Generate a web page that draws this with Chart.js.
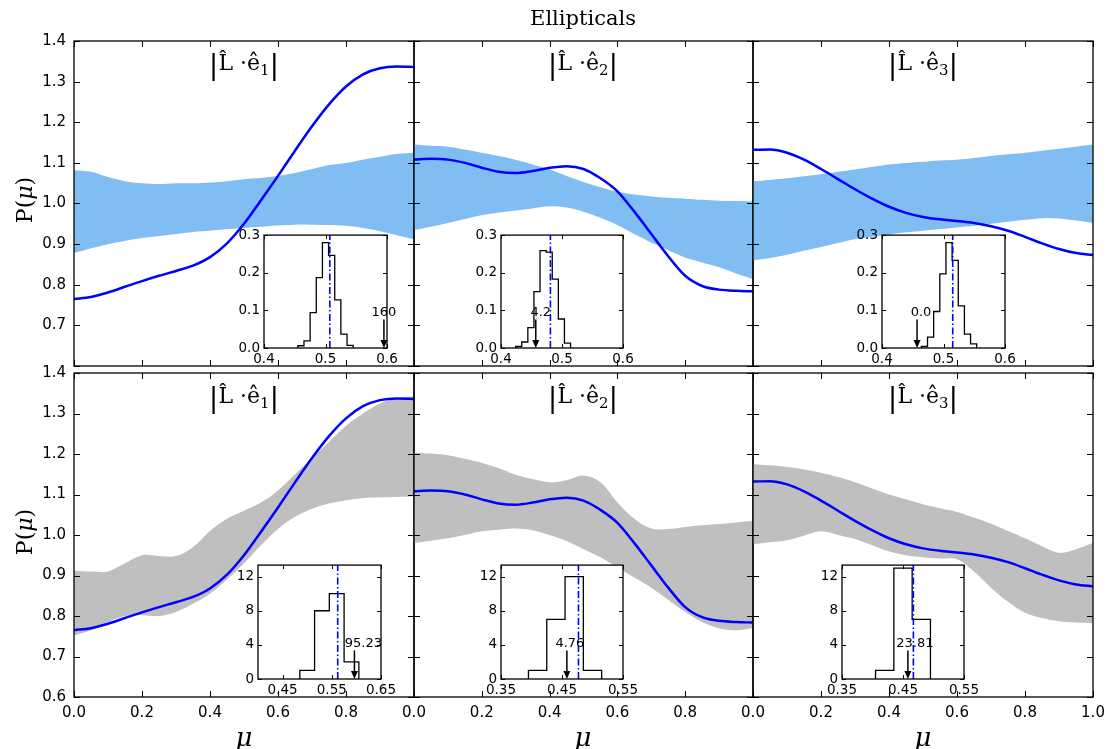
<!DOCTYPE html>
<html>
<head>
<meta charset="utf-8">
<script src="https://cdn.jsdelivr.net/npm/chart.js@4.4.1/dist/chart.umd.min.js"></script>
<style>
  body { margin: 0; background: #fff; width: 1109px; height: 749px; position: relative; overflow: hidden; }
  canvas { position: absolute; }
  .lbl { position: absolute; z-index: 5; font-family: "DejaVu Serif", serif; white-space: nowrap;
         line-height: 1; color: #000; }
  .lbl sub { font-size: 68%; vertical-align: -0.3em; }
  .lbl .bar { font-size: 130%; font-weight: 200; vertical-align: -0.12em; }
</style>
</head>
<body>
<script>
// mu grid shared by every main panel
const mu = [0, 0.05, 0.1, 0.15, 0.2, 0.25, 0.3, 0.35, 0.4, 0.45, 0.5,
            0.55, 0.6, 0.65, 0.7, 0.75, 0.8, 0.85, 0.9, 0.95, 1.0];

// measured P(mu) for |L.e1|, |L.e2|, |L.e3| (same curve in both rows)
const pE1 = [0.765, 0.770, 0.781, 0.795, 0.809, 0.822, 0.834, 0.847, 0.868, 0.902, 0.950,
             1.008, 1.068, 1.130, 1.190, 1.244, 1.288, 1.318, 1.333, 1.337, 1.336];
const pE2 = [1.108, 1.110, 1.108, 1.100, 1.088, 1.078, 1.075, 1.080, 1.088, 1.092, 1.085,
             1.062, 1.030, 0.980, 0.925, 0.870, 0.822, 0.797, 0.788, 0.785, 0.784];
const pE3 = [1.132, 1.133, 1.125, 1.108, 1.085, 1.060, 1.035, 1.012, 0.992, 0.977, 0.967,
             0.961, 0.957, 0.952, 0.944, 0.933, 0.918, 0.902, 0.888, 0.878, 0.873];

// top row: random-orientation envelope (blue)
const tLo1 = [0.878, 0.890, 0.900, 0.908, 0.915, 0.920, 0.925, 0.930, 0.933, 0.937, 0.940,
              0.943, 0.946, 0.948, 0.948, 0.947, 0.945, 0.940, 0.932, 0.922, 0.912];
const tHi1 = [1.082, 1.078, 1.065, 1.055, 1.050, 1.048, 1.050, 1.050, 1.052, 1.055, 1.060,
              1.063, 1.068, 1.075, 1.085, 1.095, 1.100, 1.108, 1.115, 1.122, 1.125];
const tLo2 = [0.935, 0.943, 0.952, 0.962, 0.971, 0.978, 0.983, 0.988, 0.993, 0.990, 0.980,
              0.965, 0.947, 0.925, 0.904, 0.885, 0.867, 0.855, 0.843, 0.828, 0.814];
const tHi2 = [1.145, 1.142, 1.140, 1.133, 1.125, 1.117, 1.108, 1.096, 1.084, 1.068, 1.053,
              1.040, 1.029, 1.022, 1.017, 1.014, 1.012, 1.009, 1.007, 1.006, 1.005];
const tLo3 = [0.860, 0.866, 0.874, 0.884, 0.893, 0.903, 0.912, 0.918, 0.924, 0.929, 0.933,
              0.937, 0.941, 0.945, 0.950, 0.955, 0.960, 0.964, 0.963, 0.958, 0.952];
const tHi3 = [1.055, 1.058, 1.062, 1.067, 1.072, 1.078, 1.084, 1.090, 1.096, 1.100, 1.103,
              1.106, 1.108, 1.112, 1.117, 1.121, 1.125, 1.130, 1.135, 1.140, 1.145];

// bottom row: bootstrap envelope (grey)
const bLo1 = [0.752, 0.765, 0.785, 0.800, 0.802, 0.800, 0.810, 0.830, 0.855, 0.890, 0.930,
              0.975, 1.015, 1.045, 1.065, 1.078, 1.086, 1.091, 1.093, 1.094, 1.095];
const bHi1 = [0.912, 0.910, 0.910, 0.930, 0.950, 0.948, 0.948, 0.970, 1.010, 1.040, 1.060,
              1.080, 1.110, 1.150, 1.190, 1.230, 1.270, 1.300, 1.325, 1.338, 1.342];
const bLo2 = [0.980, 0.986, 0.992, 1.000, 1.009, 1.013, 1.016, 1.012, 1.000, 0.985, 0.965,
              0.945, 0.920, 0.895, 0.870, 0.840, 0.810, 0.785, 0.770, 0.765, 0.770];
const bHi2 = [1.204, 1.201, 1.197, 1.188, 1.178, 1.165, 1.149, 1.138, 1.130, 1.135, 1.147,
              1.130, 1.080, 1.040, 1.016, 1.015, 1.020, 1.024, 1.027, 1.031, 1.035];
const bLo3 = [0.977, 0.982, 0.987, 0.998, 1.009, 1.000, 0.990, 0.975, 0.960, 0.950, 0.945,
              0.942, 0.940, 0.910, 0.870, 0.835, 0.808, 0.795, 0.787, 0.784, 0.782];
const bHi3 = [1.175, 1.172, 1.168, 1.162, 1.154, 1.143, 1.130, 1.115, 1.100, 1.088, 1.076,
              1.066, 1.057, 1.043, 1.028, 1.010, 0.992, 0.972, 0.956, 0.965, 0.980];

// inset histograms: bin edges + heights, mean (dash-dot) and observed value (arrow)
const hTL = [0.455, 0.465, 0.475, 0.485, 0.495, 0.505, 0.515, 0.525, 0.535, 0.545];
const nTL = [0.006, 0.019, 0.094, 0.187, 0.280, 0.246, 0.128, 0.037, 0.007];
const hTM = [0.424, 0.434, 0.444, 0.454, 0.464, 0.474, 0.484, 0.494, 0.504, 0.514];
const nTM = [0.004, 0.016, 0.054, 0.150, 0.259, 0.255, 0.183, 0.077, 0.013];
const hTR = [0.464, 0.474, 0.484, 0.494, 0.504, 0.514, 0.524, 0.534, 0.544, 0.554];
const nTR = [0.004, 0.029, 0.097, 0.197, 0.280, 0.233, 0.112, 0.037, 0.011];
const hBL = [0.485, 0.515, 0.545, 0.575, 0.605];
const nBL = [1, 8, 10, 2];
const hBM = [0.395, 0.425, 0.455, 0.485, 0.515];
const nBM = [1, 7, 12, 1];
const hBR = [0.405, 0.435, 0.465, 0.495];
const nBR = [1, 13, 7];
const insetMeans  = [0.507, 0.481, 0.515, 0.562, 0.477, 0.467];
const insetArrows = [0.595, 0.457, 0.457, 0.596, 0.458, 0.458];
const insetTexts  = ['160', '4.2', '0.0', '95.23', '4.76', '23.81'];

const blueFill = 'rgb(127,189,242)';
const greyFill = '#bfbfbf';

Chart.defaults.color = '#000';
Chart.defaults.font.family = '"DejaVu Sans", sans-serif';
Chart.defaults.animation = false;

// frame, inward ticks on all four sides, white inset background, arrow annotation
const deco = {
  id: 'deco',
  beforeDraw(chart, args, o) {
    if (!o.bg) return;
    const a = chart.chartArea;
    chart.ctx.save();
    chart.ctx.fillStyle = '#fff';
    chart.ctx.fillRect(a.left, a.top, a.right - a.left, a.bottom - a.top);
    chart.ctx.restore();
  },
  afterDraw(chart, args, o) {
    const { ctx, chartArea: a, scales } = chart;
    const len = o.len;
    ctx.save();
    ctx.strokeStyle = '#000';
    ctx.lineWidth = 1;
    ctx.beginPath();
    scales.x.ticks.forEach(t => {
      const px = Math.round(scales.x.getPixelForValue(t.value)) + 0.5;
      ctx.moveTo(px, a.bottom); ctx.lineTo(px, a.bottom - len);
      ctx.moveTo(px, a.top); ctx.lineTo(px, a.top + len);
    });
    scales.y.ticks.forEach(t => {
      const py = Math.round(scales.y.getPixelForValue(t.value)) + 0.5;
      ctx.moveTo(a.left, py); ctx.lineTo(a.left + len, py);
      ctx.moveTo(a.right, py); ctx.lineTo(a.right - len, py);
    });
    ctx.stroke();
    ctx.lineWidth = 1.3;
    ctx.strokeRect(a.left, a.top, a.right - a.left, a.bottom - a.top);

    if (o.arrow !== undefined) {
      const x = scales.x.getPixelForValue(o.arrow);
      const y0 = scales.y.getPixelForValue(0);
      const y1 = scales.y.getPixelForValue(o.arrowTop);
      ctx.lineWidth = 1.5;
      ctx.beginPath();
      ctx.moveTo(x, y1); ctx.lineTo(x, y0 - 7);
      ctx.stroke();
      ctx.fillStyle = '#000';
      ctx.beginPath();
      ctx.moveTo(x - 3.5, y0 - 8); ctx.lineTo(x + 3.5, y0 - 8); ctx.lineTo(x, y0);
      ctx.closePath(); ctx.fill();
      ctx.font = '13px "DejaVu Sans", sans-serif';
      ctx.textAlign = 'center';
      ctx.textBaseline = 'alphabetic';
      ctx.fillText(o.text, x + o.dx, y1 - 3);
    }
    ctx.restore();
  }
};

function axis(min, max, step, fmt, show, size, pad, fixed) {
  const cfg = {
    type: 'linear', min, max,
    grid: { display: false, drawTicks: false },
    border: { display: false },
    ticks: { stepSize: step, padding: pad, font: { size }, autoSkip: false, maxRotation: 0,
             callback: v => (show(v) ? fmt(v) : '') }
  };
  if (fixed) cfg.afterBuildTicks = s => { s.ticks = fixed.map(v => ({ value: v })); };
  return cfg;
}

function makeChart(rect, m, datasets, xCfg, yCfg, decoOpts) {
  const [x0, y0, x1, y1] = rect;
  const cv = document.createElement('canvas');
  const w = x1 - x0 + m.l + m.r, h = y1 - y0 + m.t + m.b;
  cv.width = w; cv.height = h;
  cv.style.left = (x0 - m.l) + 'px'; cv.style.top = (y0 - m.t) + 'px';
  cv.style.width = w + 'px'; cv.style.height = h + 'px';
  document.body.appendChild(cv);
  xCfg.afterFit = s => { s.height = m.b; };
  yCfg.afterFit = s => { s.width = m.l; };
  return new Chart(cv, {
    type: 'line',
    data: { datasets },
    options: {
      responsive: false, animation: false, devicePixelRatio: 1,
      layout: { padding: { left: 0, top: m.t, right: m.r, bottom: 0 } },
      plugins: { legend: { display: false }, tooltip: { enabled: false }, deco: decoOpts },
      elements: { point: { radius: 0 } },
      scales: { x: xCfg, y: yCfg }
    },
    plugins: [deco]
  });
}

const pts = ys => mu.map((x, i) => ({ x, y: ys[i] }));
const f1 = v => v.toFixed(1);
const all = () => true, none = () => false;

// ---- main panels ----
const colX = [[74, 414], [414, 753], [753, 1093]];
const rowY = [[34, 366], [366, 697]];
const curves = [pE1, pE2, pE3];
const bands = [[[tLo1, tHi1], [tLo2, tHi2], [tLo3, tHi3]],
               [[bLo1, bHi1], [bLo2, bHi2], [bLo3, bHi3]]];
const mainM = { l: 50, r: 25, t: 10, b: 30 };

for (let r = 0; r < 2; r++) {
  for (let c = 0; c < 3; c++) {
    const [lo, hi] = bands[r][c];
    const fillCol = r === 0 ? blueFill : greyFill;
    // dataset 0 is drawn last (on top), so the curve goes first
    const ds = [
      { data: pts(curves[c]), borderColor: '#0000ff', borderWidth: 2.5, fill: false,
        cubicInterpolationMode: 'monotone' },
      { data: pts(lo), borderColor: 'rgba(0,0,0,0)', borderWidth: 0, fill: false, tension: 0.35 },
      { data: pts(hi), borderColor: 'rgba(0,0,0,0)', borderWidth: 0, fill: '-1',
        backgroundColor: fillCol, tension: 0.35 }
    ];
    let xShow = none, yShow = none;
    if (r === 1) xShow = c === 2 ? all : (v => v < 0.99);
    if (c === 0) yShow = r === 0 ? (v => v > 0.65) : all;
    makeChart([colX[c][0], rowY[r][0], colX[c][1], rowY[r][1]], mainM, ds,
      axis(0, 1, 0.2, f1, xShow, 15, 7),
      axis(0.6, 1.4, 0.1, f1, yShow, 15, 8),
      { len: 6 });
  }
}

// ---- insets ----
const insetRects = [[264, 233, 387, 348], [501, 233, 623, 348], [882, 233, 1005, 348],
                    [258, 563, 381, 679], [501, 563, 623, 679], [842, 563, 964, 679]];
const hists = [[hTL, nTL], [hTM, nTM], [hTR, nTR], [hBL, nBL], [hBM, nBM], [hBR, nBR]];
const textDx = [0, 5, 4, 9, 3, 7];
const insetM = { l: 36, r: 20, t: 10, b: 22 };

hists.forEach(([edges, counts], i) => {
  const top = i < 3;
  const yMax = top ? 0.3 : 13.35;
  const step = [{ x: edges[0], y: 0 }];
  counts.forEach((n, k) => step.push({ x: edges[k], y: n }));
  step.push({ x: edges[edges.length - 1], y: 0 });
  const ds = [
    { data: [{ x: insetMeans[i], y: 0 }, { x: insetMeans[i], y: yMax }],
      borderColor: '#0000ff', borderWidth: 1.6, borderDash: [7, 2.5, 1.5, 2.5], fill: false },
    { data: step, stepped: true, borderColor: '#000', borderWidth: 1.3, fill: false }
  ];
  let xCfg, yCfg;
  if (top) {
    xCfg = axis(0.4, 0.6, 0.1, f1, all, 13.5, 3);
    yCfg = axis(0, 0.3, 0.1, f1, all, 13.5, 4);
  } else {
    const xmin = i === 3 ? 0.40 : 0.35;
    const xmax = i === 3 ? 0.65 : 0.55;
    const tk = i === 3 ? [0.45, 0.55, 0.65] : [0.35, 0.45, 0.55];
    xCfg = axis(xmin, xmax, 0.1, v => v.toFixed(2), all, 13.5, 3, tk);
    yCfg = axis(0, yMax, 4, v => String(Math.round(v)), all, 13.5, 4, [0, 4, 8, 12]);
  }
  makeChart(insetRects[i], insetM, ds, xCfg, yCfg,
    { len: 4, bg: true, arrow: insetArrows[i], arrowTop: top ? 0.076 : 3.35,
      text: insetTexts[i], dx: textDx[i] });
});

// ---- text labels ----
function label(html, x, y, size, rotate) {
  const d = document.createElement('div');
  d.className = 'lbl';
  d.innerHTML = html;
  d.style.left = x + 'px'; d.style.top = y + 'px'; d.style.fontSize = size + 'px';
  d.style.transform = 'translate(-50%, -50%)' + (rotate ? ' rotate(-90deg)' : '');
  document.body.appendChild(d);
}
label('Ellipticals', 583, 18, 21);
const centers = [244, 583, 923];
[64, 397].forEach(y => centers.forEach((x, k) =>
  label('<span class="bar">|</span>L\u0302 \u00b7\u00ea<sub>' + (k + 1) +
        '</sub><span class="bar">|</span>', x, y, 22)));
label('P(<i>\u03bc</i>)', 25, 200, 22, true);
label('P(<i>\u03bc</i>)', 25, 532, 22, true);
centers.forEach(x => label('<i>\u03bc</i>', x, 737, 26));
</script>
</body>
</html>
